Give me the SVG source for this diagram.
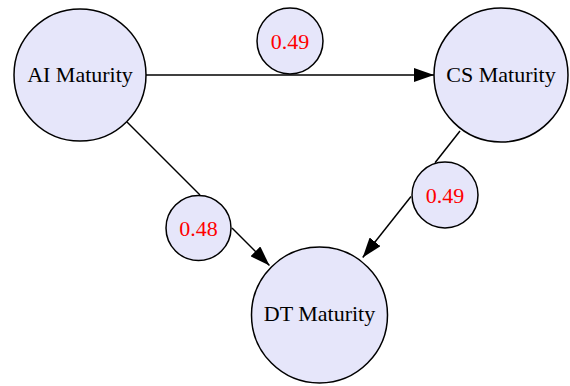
<svg xmlns="http://www.w3.org/2000/svg" width="570" height="386" viewBox="0 0 570 386">
<style>
.node{fill:#e6e6fa;stroke:#000;stroke-width:1.5}
.lbl{fill:#e6e6fa;stroke:#000;stroke-width:1.5}
.t{font-family:'Liberation Serif','Times New Roman',serif;font-size:22px;text-anchor:middle;fill:#000}
.r{font-family:'Liberation Serif','Times New Roman',serif;font-size:22px;text-anchor:middle;fill:#ff0000}
.e{stroke:#000;stroke-width:1.5;fill:none}
</style>
<defs>
<marker id="arr" viewBox="0 0 20 14" refX="20" refY="7" markerWidth="20" markerHeight="14" markerUnits="userSpaceOnUse" orient="auto">
<path d="M0,0 L20,7 L0,14 Z" fill="#000"/>
</marker>
</defs>
<g id="connectors">
<line class="e" x1="146" y1="75" x2="434" y2="75" marker-end="url(#arr)"/>
<line class="e" x1="127" y1="122" x2="200" y2="195"/>
<line class="e" x1="232" y1="228" x2="269.5" y2="265.5" marker-end="url(#arr)"/>
<line class="e" x1="460" y1="131" x2="435" y2="162.7"/>
<line class="e" x1="411" y1="196.5" x2="362.7" y2="257.5" marker-end="url(#arr)"/>
</g>
<g id="ai">
<circle class="node" cx="80" cy="75" r="66"/>
<text class="t" x="80" y="81.5">AI Maturity</text>
</g>
<g id="cs">
<circle class="node" cx="501" cy="75" r="67"/>
<text class="t" x="501" y="81.5">CS Maturity</text>
</g>
<g id="dt">
<circle class="node" cx="319.5" cy="315" r="68"/>
<text class="t" x="319.5" y="321">DT Maturity</text>
</g>
<g id="w1">
<circle class="lbl" cx="290" cy="41" r="33"/>
<text class="r" x="290" y="48.5">0.49</text>
</g>
<g id="w2">
<circle class="lbl" cx="198.5" cy="228" r="32.5"/>
<text class="r" x="198.5" y="235.5">0.48</text>
</g>
<g id="w3">
<circle class="lbl" cx="445" cy="195" r="33"/>
<text class="r" x="445" y="202.5">0.49</text>
</g>
</svg>
